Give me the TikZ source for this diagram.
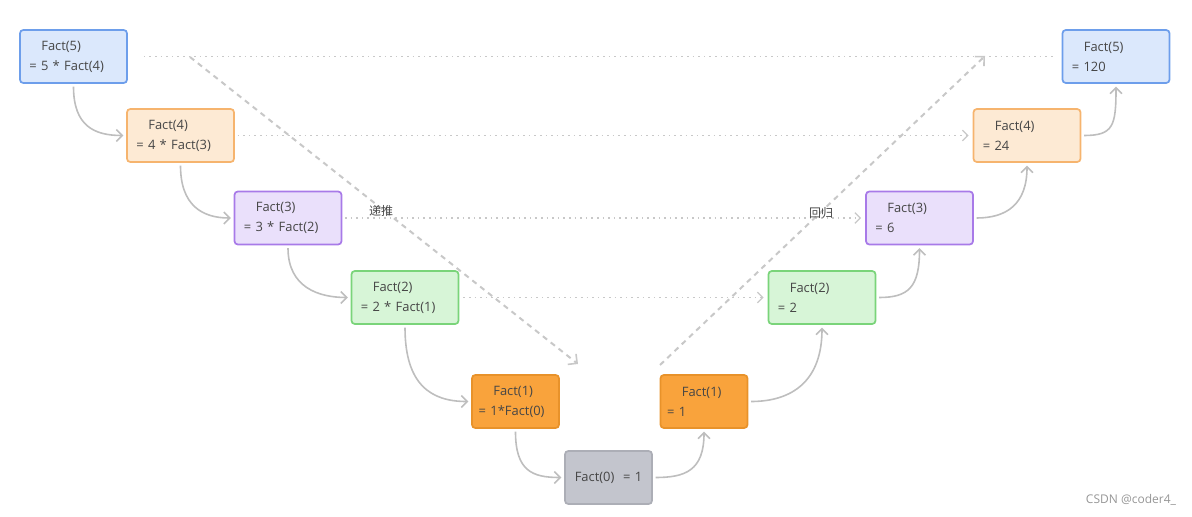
\documentclass[tikz,border=0pt]{standalone}
\usepackage{fontspec}
\setmainfont{Open Sans}
\newfontfamily\cjk{Noto Sans CJK SC}
\usetikzlibrary{arrows.meta}

\definecolor{txtgray}{RGB}{70,70,70}
\definecolor{linkgray}{RGB}{190,190,190}
\definecolor{dotgray}{RGB}{200,200,200}
\definecolor{blueline}{RGB}{109,158,235}
\definecolor{bluefill}{RGB}{219,232,252}
\definecolor{peachline}{RGB}{246,180,110}
\definecolor{peachfill}{RGB}{253,234,212}
\definecolor{purpleline}{RGB}{168,122,232}
\definecolor{purplefill}{RGB}{234,224,251}
\definecolor{greenline}{RGB}{122,212,122}
\definecolor{greenfill}{RGB}{215,245,215}
\definecolor{orangeline}{RGB}{232,146,42}
\definecolor{orangefill}{RGB}{249,163,60}
\definecolor{greyline}{RGB}{172,174,182}
\definecolor{greyfill}{RGB}{195,197,205}

\tikzset{every picture/.style={line width=0.75pt}}
\tikzset{
  factbox/.style 2 args={draw={#1}, fill={#2}, rounded corners=2.5pt, line width=1.3pt,
    minimum height=39.75pt, inner ysep=0pt, inner xsep=7pt, text width=66.25pt, align=left,
    text=txtgray, font=\fontsize{9.7}{15}\selectfont},
  smallbox/.style 2 args={factbox={#1}{#2}, inner xsep=5pt, text width=55.25pt},
  flow/.style={draw=linkgray, line width=1.2pt, shorten <=2pt, shorten >=2pt,
    -{Straight Barb[length=4.5pt,width=9pt]}},
  trace/.style={draw=dotgray, line width=1.2pt, dash pattern=on 1.2pt off 3pt},
  tracearrow/.style={trace, -{Straight Barb[length=4pt,width=8pt,line width=1pt]}},
  sweep/.style={draw=dotgray, line width=1.5pt, dash pattern=on 4pt off 3.5pt,
    -{Straight Barb[length=5pt,width=10pt,line width=1.2pt]}},
  tag/.style={text=txtgray, font=\cjk\fontsize{9}{11}\selectfont}
}

\begin{document}
\begin{tikzpicture}[x=0.75pt,y=0.75pt,yscale=-1]
	\useasboundingbox (0,0) rectangle (1192,517);

	% Descending side
	\node [factbox={blueline}{bluefill}] (L5) at (73.5,56.5) {\hspace*{9pt}Fact(5)\\= 5 * Fact(4)};
	\node [factbox={peachline}{peachfill}] (L4) at (180.5,135.5) {\hspace*{9pt}Fact(4)\\= 4 * Fact(3)};
	\node [factbox={purpleline}{purplefill}] (L3) at (288,218) {\hspace*{9pt}Fact(3)\\= 3 * Fact(2)};
	\node [factbox={greenline}{greenfill}] (L2) at (405,297.5) {\hspace*{9pt}Fact(2)\\= 2 * Fact(1)};
	\node [smallbox={orangeline}{orangefill}] (L1) at (515.5,401.5) {\hspace*{11pt}Fact(1)\\= 1*Fact(0)};

	% Base case
	\node [smallbox={greyline}{greyfill}, align=center] (F0) at (608.5,477.5) {Fact(0)\ \ = 1};

	% Returning side
	\node [smallbox={orangeline}{orangefill}] (R1) at (704,401.5) {\hspace*{11pt}Fact(1)\\= 1};
	\node [factbox={greenline}{greenfill}] (R2) at (822,297.5) {\hspace*{9pt}Fact(2)\\= 2};
	\node [factbox={purpleline}{purplefill}] (R3) at (919.5,218) {\hspace*{9pt}Fact(3)\\= 6};
	\node [factbox={peachline}{peachfill}] (R4) at (1027,135.5) {\hspace*{9pt}Fact(4)\\= 24};
	\node [factbox={blueline}{bluefill}] (R5) at (1116,56.5) {\hspace*{9pt}Fact(5)\\= 120};

	% Curved links, going down
	\draw [flow] (L5.south) .. controls +(0,42) and +(-32,0) .. (L4.west);
	\draw [flow] (L4.south) .. controls +(0,42) and +(-32,0) .. (L3.west);
	\draw [flow] (L3.south) .. controls +(0,42) and +(-32,0) .. (L2.west);
	\draw [flow] (L2.south) .. controls +(0,60) and +(-40,0) .. (L1.west);
	\draw [flow] (L1.south) .. controls +(0,42) and +(-32,0) .. (F0.west);
	% Curved links, coming back up
	\draw [flow] (F0.east) .. controls +(32,0) and +(0,42) .. (R1.south);
	\draw [flow] (R1.east) .. controls +(45,0) and +(0,55) .. (R2.south);
	\draw [flow] (R2.east) .. controls +(32,0) and +(0,42) .. (R3.south);
	\draw [flow] (R3.east) .. controls +(32,0) and +(0,42) .. (R4.south);
	\draw [flow] (R4.east) .. controls +(32,0) and +(0,42) .. (R5.south);

	% Dotted level lines
	\draw [trace, shorten <=12pt, shorten >=4pt] (L5.east) -- (R5.west);
	\draw [tracearrow, shorten <=2pt, shorten >=3pt] (L4.east) -- (R4.west);
	\draw [tracearrow, shorten <=2pt, shorten >=3pt] (L3.east) -- (R3.west);
	\draw [tracearrow, shorten <=3pt, shorten >=3pt] (L2.east) -- (R2.west);

	% Diagonal sweeps
	\coordinate (downstart) at (190,57);
	\coordinate (downend) at (578,364);
	\coordinate (upstart) at (660,365);
	\coordinate (upend) at (985,56);
	\draw [sweep] (downstart) -- (downend);
	\draw [sweep] (upstart) -- (upend);

	% Labels
	\node [tag] (downtag) at (381,211) {递推};
	\node [tag] (uptag) at (821,213) {回归};
	\node [text={rgb,255:red,150;green,150;blue,150}, font=\fontsize{9}{11}\selectfont] (mark) at (1131,500) {CSDN @coder4\_};
\end{tikzpicture}
\end{document}
